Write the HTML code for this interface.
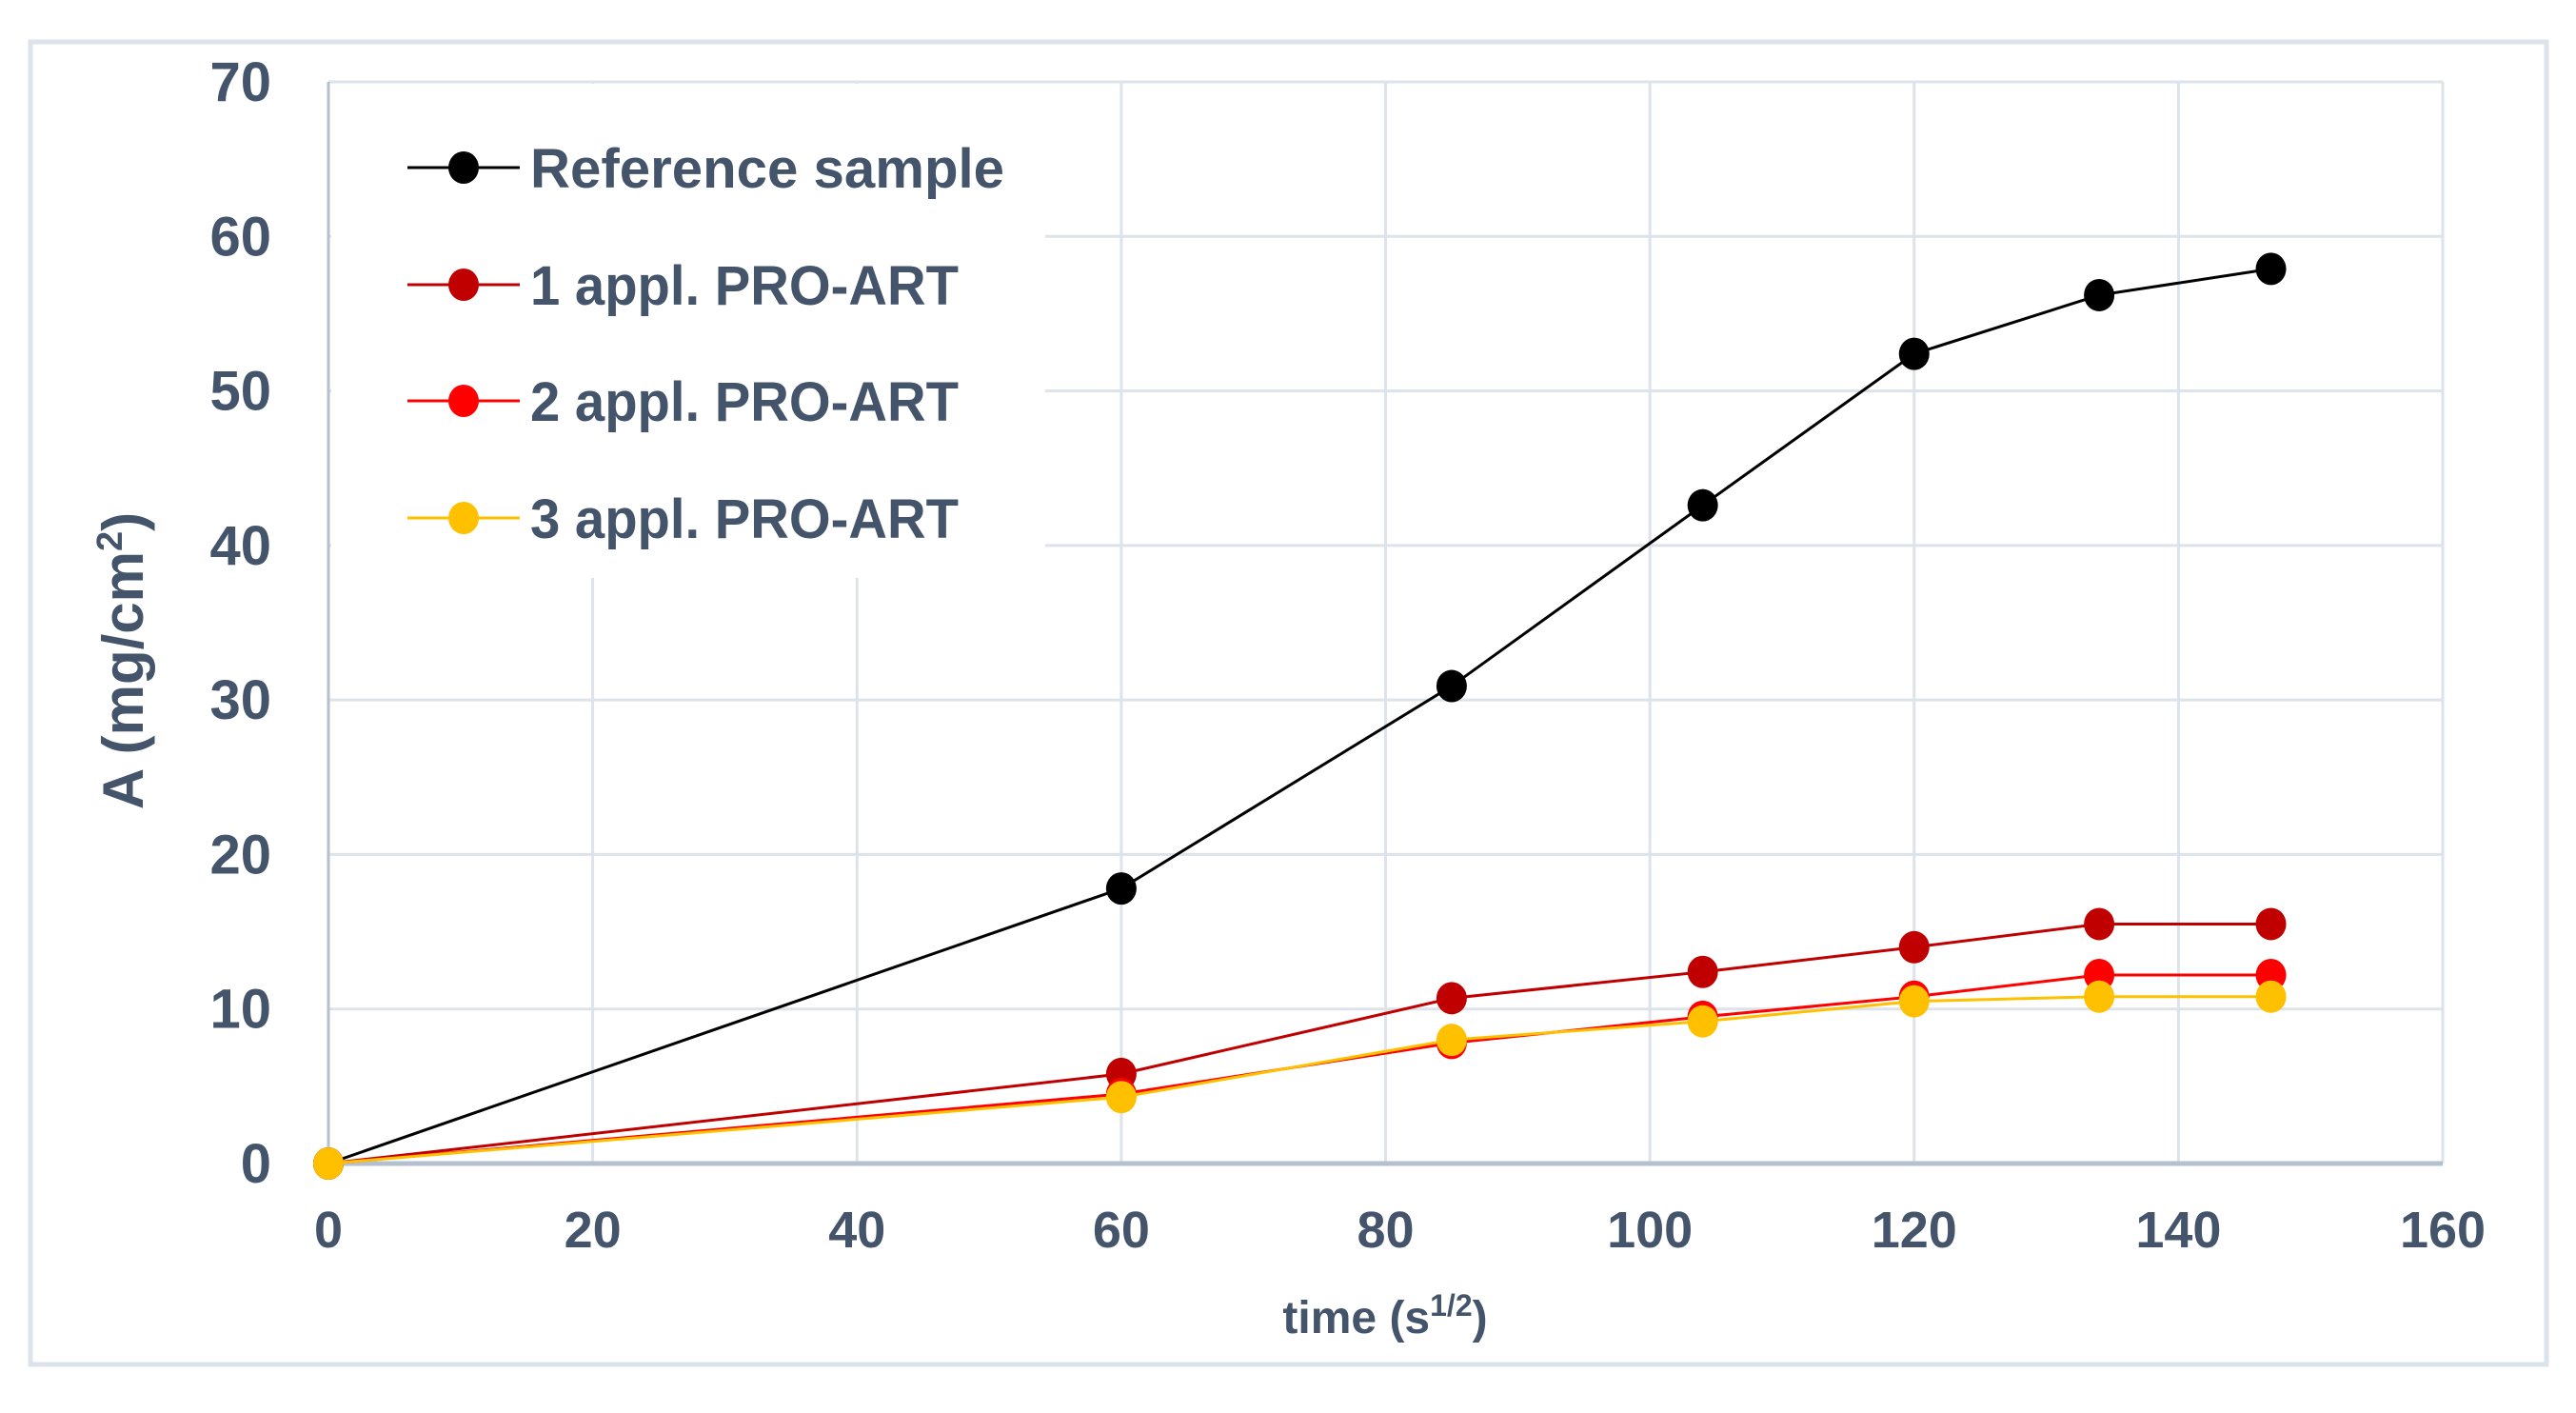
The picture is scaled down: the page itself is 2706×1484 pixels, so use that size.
<!DOCTYPE html>
<html><head><meta charset="utf-8"><style>
html,body{margin:0;padding:0;background:#fff;}
svg text{font-family:"Liberation Sans Narrow","Liberation Sans",sans-serif;font-weight:bold;fill:#44546a;}
</style></head><body>
<svg id="chart" width="2706" height="1479" viewBox="0 0 2706 1479" xmlns="http://www.w3.org/2000/svg">
<rect x="32" y="44" width="2643" height="1389" fill="#fff" stroke="#dde3ea" stroke-width="5"/>
<g id="grid"></g>
<g id="axes"></g>
<rect x="348" y="88" width="750" height="519" fill="#fff"/>
<g id="series"></g>
<g id="legend"></g>
<text x="1455" y="1400" font-size="48" text-anchor="middle">time (s<tspan font-size="32" dy="-18">1/2</tspan><tspan dy="18">)</tspan></text>
<text transform="translate(150,694) rotate(-90)" font-size="60" text-anchor="middle">A (mg/cm<tspan font-size="38" dy="-22">2</tspan><tspan dy="22">)</tspan></text>
</svg>
<script>
const xTicks=[0,20,40,60,80,100,120,140,160];
const yTicks=[0,10,20,30,40,50,60,70];
const times=[0,60,85,104,120,134,147];
const refValues=[0,17.8,30.9,42.6,52.4,56.2,57.9];
const appl1Values=[0,5.8,10.7,12.4,14.0,15.5,15.5];
const appl2Values=[0,4.5,7.8,9.5,10.8,12.2,12.2];
const appl3Values=[0,4.3,8.0,9.2,10.5,10.8,10.8];
const seriesNames=["Reference sample","1 appl. PRO-ART","2 appl. PRO-ART","3 appl. PRO-ART"];
const seriesColors=["#000000","#c00000","#ff0000","#ffc000"];
const seriesData=[refValues,appl1Values,appl2Values,appl3Values];

const L=345,R=2566,T=86,B=1222;
const sx=v=>L+(v-0)/(160-0)*(R-L);
const sy=v=>B-(v-0)/(70-0)*(B-T);
const NS="http://www.w3.org/2000/svg";
function mk(tag,attrs,parent){const e=document.createElementNS(NS,tag);for(const k in attrs)e.setAttribute(k,attrs[k]);parent.appendChild(e);return e;}
const grid=document.getElementById('grid'),axes=document.getElementById('axes'),ser=document.getElementById('series'),leg=document.getElementById('legend');
xTicks.forEach(t=>{
  if(t>0){const g=mk('line',{x1:sx(t),x2:sx(t),y1:T,y2:B,stroke:'#dde3ea','stroke-width':3},grid);
  
  }
  const tx=mk('text',{x:sx(t),y:1310,'font-size':54,'text-anchor':'middle'},axes);
  tx.textContent=t;
  
  
});
yTicks.forEach(t=>{
  if(t>0){const g=mk('line',{x1:L,x2:R,y1:sy(t),y2:sy(t),stroke:'#dde3ea','stroke-width':3},grid);
  
  }
  const tx=mk('text',{x:285,y:sy(t)+20,'font-size':58,'text-anchor':'end'},axes);
  tx.textContent=t;
  
  
});
const ya=mk('line',{x1:L,x2:L,y1:T,y2:B,stroke:'#b4bfcf','stroke-width':3},axes);


const xa=mk('line',{x1:L,x2:R,y1:B,y2:B,stroke:'#b4bfcf','stroke-width':5},axes);


[0,1,2,3].forEach(i=>{
  const vals=seriesData[i];
  const g=mk('g',{},ser);
  
  
  const pts=vals.map((v,j)=>sx(times[j])+','+sy(v)).join(' ');
  const pl=mk('polyline',{points:pts,fill:'none',stroke:seriesColors[i],'stroke-width':3},g);
  
  
  vals.forEach((v,j)=>{
    const c=mk('ellipse',{cx:sx(times[j]),cy:sy(v),rx:16,ry:17,fill:seriesColors[i]},g);
    
    
  });
});
const legY=[176,299,421,544];
const legW=[498,450,450,450];
seriesNames.forEach((n,i)=>{
  const g=mk('g',{},leg);
  
  
  mk('line',{x1:428,x2:546,y1:legY[i],y2:legY[i],stroke:seriesColors[i],'stroke-width':3},g);
  mk('ellipse',{cx:487,cy:legY[i],rx:16,ry:17,fill:seriesColors[i]},g);
  const t=mk('text',{x:557,y:legY[i]+21,'font-size':58,textLength:legW[i],lengthAdjust:'spacingAndGlyphs'},g);
  t.textContent=n;
});
</script>
</body></html>
